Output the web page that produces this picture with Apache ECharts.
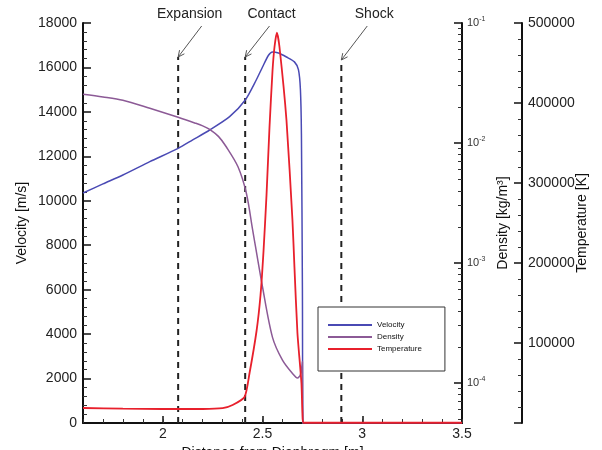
<!DOCTYPE html>
<html><head><meta charset="utf-8">
<script src="https://cdn.jsdelivr.net/npm/echarts@6/dist/echarts.min.js"></script>
<style>html,body{margin:0;padding:0;background:#fff}#c{width:602px;height:450px}</style>
</head><body><div id="c"></div>
<script>
// ---- data ----
const velocityX = [1.6, 1.7, 1.8, 1.935, 2.077, 2.15, 2.235, 2.335, 2.4135, 2.4685, 2.5, 2.53, 2.55, 2.58, 2.62, 2.66, 2.68, 2.69, 2.695, 2.70, 2.703, 3.5];
const velocityY = [10350, 10760, 11160, 11760, 12360, 12740, 13185, 13785, 14535, 15435, 16020, 16550, 16700, 16650, 16470, 16250, 15900, 15000, 13000, 6000, 0, 0];

const densityX = [1.6, 1.7, 1.8, 1.935, 2.077, 2.16, 2.2, 2.235, 2.28, 2.318, 2.377, 2.419, 2.45, 2.5, 2.55, 2.6, 2.65, 2.675, 2.69, 2.70, 2.702];
const densityY = [0.02547, 0.02420, 0.02270, 0.01945, 0.01637, 0.01470, 0.01390, 0.01300, 0.01130, 0.00931, 0.00634, 0.00381, 0.00191, 0.000631, 0.000240, 0.000155, 0.000120, 0.000110, 0.0001175, 0.000151, 0.00001];

const temperatureX = [1.6, 1.8, 2.0, 2.2, 2.3, 2.35, 2.41, 2.435, 2.47, 2.49, 2.505, 2.52, 2.535, 2.55, 2.56, 2.572, 2.585, 2.62, 2.65, 2.66, 2.675, 2.695, 2.70, 2.705, 3.5];
const temperatureY = [18750, 18000, 17500, 17500, 18500, 22500, 32500, 62500, 115000, 160000, 215000, 285000, 370000, 440000, 470000, 488000, 470000, 378750, 253750, 195000, 112500, 50000, 12500, 300, 300];

const xTicks = [2, 2.5, 3, 3.5];
const densityTicks = [0.0001, 0.001, 0.01, 0.1];
const densityMin = 4.6416e-5;

const annotationNames = ['Expansion', 'Contact', 'Shock'];
const annotationX = [2.077, 2.413, 2.895];
const annotationTop = [16470, 16470, 16335];
const annotationLabelX = [2.135, 2.545, 3.06];
const annotationArrowX = [2.195, 2.535, 3.025];
const annotationLabelV = 18405;
const annotationArrowV = 17865;

// ---- helpers ----
const zip = (a, b) => a.map((v, i) => [v, b[i]]);
const FONT = "'Liberation Sans', Arial, sans-serif";
const densityMinor = [];
for (let k = -5; k <= -2; k++) for (let m = 2; m <= 9; m++) {
  const v = m * Math.pow(10, k);
  if (v > densityMin && v < 0.1) densityMinor.push(v);
}
const lineStyleAxis = { color: '#111', width: 2 };

const chart = echarts.init(document.getElementById('c'));

const dashedSeries = annotationNames.map((n, i) => ({
  name: n + ' line', type: 'line', xAxisIndex: 0, yAxisIndex: 0,
  data: [[annotationX[i], 0], [annotationX[i], annotationTop[i]]],
  symbol: 'none', silent: true, z: 1,
  lineStyle: { color: '#222', width: 2, type: [6, 5] }
}));

chart.setOption({
  animation: false,
  backgroundColor: '#fff',
  textStyle: { fontFamily: FONT },
  grid: { left: 83, right: 140, top: 23, bottom: 27, containLabel: false, outerBoundsMode: 'none' },
  legend: {
    data: ['Velocity', 'Density', 'Temperature'],
    orient: 'vertical', left: 318, top: 307,
    icon: 'rect',
    padding: [14, 23, 18, 10], itemGap: 4, itemWidth: 44, itemHeight: 2,
    backgroundColor: '#fff', borderColor: '#333', borderWidth: 1,
    textStyle: { fontSize: 8, lineHeight: 8, color: '#111', fontFamily: FONT }
  },
  xAxis: [{
    type: 'value', min: 1.6, max: 3.5, position: 'bottom',
    name: 'Distance from Diaphragm [m]', nameLocation: 'middle', nameGap: 23, nameMoveOverlap: false,
    nameTextStyle: { fontSize: 14, color: '#111', fontFamily: FONT },
    axisLine: { show: true, lineStyle: lineStyleAxis },
    axisTick: { show: true, inside: true, length: 7, customValues: xTicks, lineStyle: { color: '#111', width: 1.5 } },
    axisLabel: { customValues: xTicks, formatter: v => String(v), fontSize: 14, color: '#222', margin: 4, fontFamily: FONT },
    splitLine: { show: false }
  }, {
    type: 'value', min: 1.6, max: 3.5, interval: 0.1, position: 'bottom',
    axisLine: { show: false },
    axisTick: { show: true, inside: true, length: 4, lineStyle: { color: '#333', width: 1 } },
    axisLabel: { show: false }, splitLine: { show: false }
  }],
  yAxis: [{
    type: 'value', min: 0, max: 18000, interval: 2000, position: 'left',
    name: 'Velocity [m/s]', nameLocation: 'middle', nameGap: 54, nameRotate: 90, nameMoveOverlap: false,
    nameTextStyle: { fontSize: 14, color: '#111', fontFamily: FONT },
    axisLine: { show: true, lineStyle: lineStyleAxis },
    axisTick: { show: true, inside: true, length: 8, lineStyle: { color: '#111', width: 1.5 } },
    minorTick: { show: true, splitNumber: 5, length: 4, lineStyle: { color: '#333', width: 1 } },
    axisLabel: { formatter: v => String(v), fontSize: 14, color: '#222', margin: 6, fontFamily: FONT },
    splitLine: { show: false }, minorSplitLine: { show: false }
  }, {
    type: 'log', logBase: 10, min: densityMin, max: 0.1, position: 'right',
    name: 'Density [kg/m³]', nameLocation: 'middle', nameGap: 34, nameRotate: 90, nameMoveOverlap: false,
    nameTextStyle: { fontSize: 14, color: '#111', fontFamily: FONT },
    axisLine: { show: true, lineStyle: lineStyleAxis },
    axisTick: { show: true, inside: true, length: 8, customValues: densityTicks, lineStyle: { color: '#111', width: 1.5 } },
    axisLabel: {
      customValues: densityTicks, margin: 5,
      formatter: v => '{b|10}{s|' + Math.round(Math.log10(v)) + '}',
      rich: {
        b: { fontSize: 11, color: '#333', fontFamily: FONT, lineHeight: 14 },
        s: { fontSize: 7, color: '#333', fontFamily: FONT, verticalAlign: 'top', lineHeight: 14 }
      }
    },
    splitLine: { show: false }
  }, {
    type: 'log', logBase: 10, min: densityMin, max: 0.1, position: 'right',
    axisLine: { show: false },
    axisTick: { show: true, inside: true, length: 4, customValues: densityMinor, lineStyle: { color: '#333', width: 1 } },
    axisLabel: { show: false }, splitLine: { show: false }
  }, {
    type: 'value', min: 0, max: 500000, interval: 100000, position: 'right', offset: 60,
    name: 'Temperature [K]', nameLocation: 'middle', nameGap: 53, nameRotate: 90, nameMoveOverlap: false,
    nameTextStyle: { fontSize: 14, color: '#111', fontFamily: FONT },
    axisLine: { show: true, lineStyle: lineStyleAxis },
    axisTick: { show: true, inside: true, length: 8, lineStyle: { color: '#111', width: 1.5 } },
    minorTick: { show: true, splitNumber: 5, length: 4, lineStyle: { color: '#333', width: 1 } },
    axisLabel: { formatter: v => String(v), showMinLabel: false, fontSize: 14, color: '#222', margin: 6, fontFamily: FONT },
    splitLine: { show: false }, minorSplitLine: { show: false }
  }],
  series: [
    ...dashedSeries,
    { name: 'Velocity', type: 'line', xAxisIndex: 0, yAxisIndex: 0, data: zip(velocityX, velocityY),
      symbol: 'none', smooth: 0.25, z: 3, lineStyle: { color: '#4a4ab4', width: 1.5 }, itemStyle: { color: '#4a4ab4' } },
    { name: 'Density', type: 'line', xAxisIndex: 0, yAxisIndex: 1, data: zip(densityX, densityY),
      symbol: 'none', smooth: 0.3, z: 3, lineStyle: { color: '#8c5a96', width: 1.5 }, itemStyle: { color: '#8c5a96' } },
    { name: 'Temperature', type: 'line', xAxisIndex: 0, yAxisIndex: 3, data: zip(temperatureX, temperatureY),
      symbol: 'none', smooth: 0.2, z: 4, lineStyle: { color: '#e8202c', width: 1.8 }, itemStyle: { color: '#e8202c' } }
  ]
});

// annotations (labels + arrows) placed from data coordinates
const px = (x, v) => chart.convertToPixel({ xAxisIndex: 0, yAxisIndex: 0 }, [x, v]);
const elements = [];
annotationNames.forEach((n, i) => {
  const t = px(annotationLabelX[i], annotationLabelV);
  elements.push({ type: 'text', x: t[0], y: t[1], z: 10,
    style: { text: n, fontSize: 14, fontFamily: FONT, fill: '#222', align: 'center', verticalAlign: 'middle' } });
  const s = px(annotationArrowX[i], annotationArrowV);
  const e = px(annotationX[i], annotationTop[i]);
  const dx = s[0] - e[0], dy = s[1] - e[1], L = Math.hypot(dx, dy);
  const ux = dx / L, uy = dy / L, a = 0.45, h = 7;
  const p1 = [e[0] + h * (ux * Math.cos(a) - uy * Math.sin(a)), e[1] + h * (ux * Math.sin(a) + uy * Math.cos(a))];
  const p2 = [e[0] + h * (ux * Math.cos(-a) - uy * Math.sin(-a)), e[1] + h * (ux * Math.sin(-a) + uy * Math.cos(-a))];
  elements.push({ type: 'line', z: 10, shape: { x1: s[0], y1: s[1], x2: e[0], y2: e[1] }, style: { stroke: '#555', lineWidth: 1 } });
  elements.push({ type: 'polyline', z: 10, shape: { points: [p1, e, p2] }, style: { stroke: '#555', lineWidth: 1, fill: null } });
});
chart.setOption({ graphic: elements });
</script></body></html>
